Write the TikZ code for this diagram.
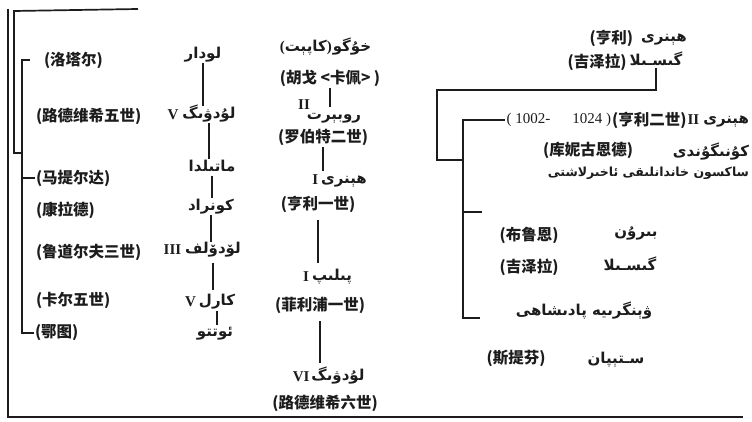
\documentclass[tikz,border=0pt]{standalone}
\usepackage{fontspec}
\usetikzlibrary{positioning}
\setmainfont{Liberation Serif}
\newfontfamily\zhfont{Noto Sans CJK SC}
\newfontfamily\ugfont[Script=Arabic]{DejaVu Sans}
\TeXXeTstate=1
\newcommand{\ugr}[1]{\beginR #1\endR}

\definecolor{c1c1c1c}{RGB}{28,28,28}

\tikzset{
  zhtext/.style={text=c1c1c1c, font=\zhfont\bfseries\fontsize{15.5}{17}\selectfont},
  ugtext/.style={text=c1c1c1c, font=\ugfont\bfseries\fontsize{15}{17}\selectfont,
    text height=10pt, text depth=3pt},
  roman/.style={text=c1c1c1c, font=\bfseries\fontsize{15}{17}\selectfont},
  tree/.style={draw=c1c1c1c, line width=1.7pt},
  bar/.style={draw=c1c1c1c, line width=2.2pt, shorten <=2pt, shorten >=2pt},
}

\begin{document}
\begin{tikzpicture}[y=1pt, x=1pt, yscale=-1, inner sep=0pt, outer sep=0pt]
\useasboundingbox (0,0) rectangle (752,422);

% frame
\path[tree] (8,9) -- (8,417) -- (743,417);
\path[tree] (138,9) -- (14,11) -- (14,153) -- (22,153);

% left column
\path (203,55) node[ugtext] (textlothar) {\ugr{لودار}};
\path (209,115) node[ugtext] (textludwigV) {\ugr{لۇدۋىگ}};
\node[roman, left=4pt of textludwigV] (numV1) {V};
\path (212,168) node[ugtext] (textmatilda) {\ugr{ماتىلدا}};
\path (211,207) node[ugtext] (textkonrad) {\ugr{كونراد}};
\path (213,250) node[ugtext] (textrudolf) {\ugr{لۆدۆلف}};
\node[roman, left=4pt of textrudolf] (numIII) {III};
\path (217,302) node[ugtext] (textkarl) {\ugr{كارل}};
\node[roman, left=3pt of textkarl] (numV2) {V};
\path (215,333) node[ugtext] (textotto) {\ugr{ئوتتو}};

\path (44,60) node[zhtext, anchor=west] (zhlothar) {(洛塔尔)};
\path (36,116) node[zhtext, anchor=west] (zhludwigV) {(路德维希五世)};
\path (36,178) node[zhtext, anchor=west] (zhmatilda) {(马提尔达)};
\path (36,210) node[zhtext, anchor=west] (zhkonrad) {(康拉德)};
\path (36,252) node[zhtext, anchor=west] (zhrudolf) {(鲁道尔夫三世)};
\path (36,300) node[zhtext, anchor=west] (zhkarl) {(卡尔五世)};
\path (35,333) node[zhtext, anchor=west] (zhotto) {(鄂图)};

\path[bar] (textlothar.south) -- (textlothar.south |- textludwigV.north);
\path[bar] (textludwigV.south) -- (textludwigV.south |- textmatilda.north);
\path[bar] (textmatilda.south) -- (textmatilda.south |- textkonrad.north);
\path[bar] (textkonrad.south) -- (textkonrad.south |- textrudolf.north);
\path[bar, shorten <=6pt, shorten >=6pt] (textrudolf.south) -- (textrudolf.south |- textkarl.north);
\path[bar] (textkarl.south) -- (textkarl.south |- textotto.north);

\path[tree] ([xshift=-14pt]zhlothar.west) -| (22,333) -- ([xshift=-1pt]zhotto.west);
\path[tree] (22,178) -- ([xshift=-1pt]zhmatilda.west);

% centre column
\path (352,48) node[ugtext] (texthugo) {\ugr{خۇگو}};
\node[ugtext, left=1pt of texthugo] (textcapet) {{\normalfont\bfseries(}\ugr{كاپېت}{\normalfont\bfseries)}};
\path (330,78) node[zhtext] (zhhugo) {(胡戈 <卡佩> )};
\path (334,116) node[ugtext] (textrobert) {\ugr{روبېرت}};
\path (304,105) node[roman] (numII1) {II};
\path (323,137) node[zhtext] (zhrobert) {(罗伯特二世)};
\path (344,180) node[ugtext] (texthenry) {\ugr{ھېنرى}};
\node[roman, left=3pt of texthenry] (numI1) {I};
\path (318,204) node[zhtext] (zhhenry) {(亨利一世)};
\path (332,277) node[ugtext] (textphilip) {\ugr{پىلىپ}};
\node[roman, left=3pt of textphilip] (numI2) {I};
\path (320,305) node[zhtext] (zhphilip) {(菲利浦一世)};
\path (338,377) node[ugtext] (textludwigVI) {\ugr{لۇدۋىگ}};
\node[roman, left=2pt of textludwigVI] (numVI) {VI};
\path (325,403) node[zhtext] (zhludwigVI) {(路德维希六世)};

\path[bar] (zhhugo.south) -- (zhhugo.south |- textrobert.north);
\path[bar] (zhrobert.south) -- (zhrobert.south |- texthenry.north);
\path[bar, shorten <=8pt, shorten >=8pt] (zhhenry.south) -- (zhhenry.south |- textphilip.north);
\path[bar, shorten <=8pt, shorten >=8pt] (zhphilip.south) -- (zhphilip.south |- textludwigVI.north);

% right part
\path (664,38) node[ugtext] (textheinrich) {\ugr{ھېنرى}};
\node[zhtext, left=8pt of textheinrich] (zhheinrich) {(亨利)};
\path (656,62) node[ugtext] (textgisela) {\ugr{گىسـىلا}};
\node[zhtext, left=3pt of textgisela] (zhgisela) {(吉泽拉)};
\path (749,120) node[ugtext, anchor=east] (textheinrichII) {\ugr{ھېنرى}};
\node[roman, left=4pt of textheinrichII] (numII2) {II};
\node[zhtext, left=1pt of numII2] (zhheinrichII) {(亨利二世)};
\node[roman, font=\fontsize{15}{17}\selectfont, left=1pt of zhheinrichII] (textyears) {(\ 1002-\hspace{22pt}1024\ )};
\path (588,150) node[zhtext] (zhkunigunde) {(库妮古恩德)};
\path (749,153) node[ugtext, anchor=east] (textkunigunde) {\ugr{كۇنىگۇندى}};
\path (749,173) node[ugtext, anchor=east, font=\ugfont\bfseries\fontsize{12.5}{15}\selectfont] (textsaxon) {\ugr{ساكسون خاندانلىقى ئاخىرلاشتى}};
\path (529,235) node[zhtext] (zhbruno) {(布鲁恩)};
\path (636,233) node[ugtext] (textbruno) {\ugr{بىرۇن}};
\path (529,267) node[zhtext] (zhgiselaB) {(吉泽拉)};
\path (630,267) node[ugtext] (textgiselaB) {\ugr{گىسـىلا}};
\path (584,312) node[ugtext] (texthungary) {\ugr{ۋېنگرىيە پادىشاھى}};
\path (516,358) node[zhtext] (zhstephan) {(斯提芬)};
\path (616,360) node[ugtext] (textstephan) {\ugr{سـتېپان}};

\path[tree] (textgisela.south) |- (437,90) -- (437,160) -- (463,160);
\path[tree] ([xshift=-2pt]textyears.west) -| (463,318) -- (480,318);
\path[tree] (463,212) -- (482,212);

\end{tikzpicture}
\end{document}
